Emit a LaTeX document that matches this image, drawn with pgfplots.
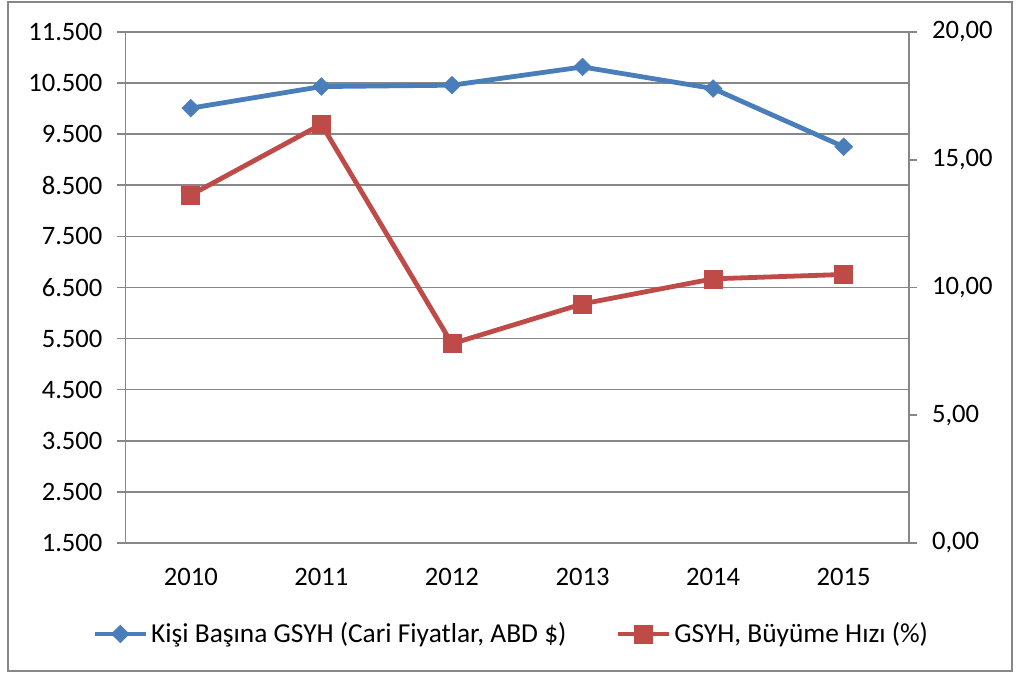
\documentclass[border=0pt]{standalone}
\usepackage{pgfplots}
\pgfplotsset{compat=1.18}
\usepackage{fontspec}
\setmainfont{Carlito}
\definecolor{xblue}{HTML}{4A7EBB}
\definecolor{xred}{HTML}{BE4B48}
\definecolor{xgrid}{HTML}{878787}
\begin{document}
\begin{tikzpicture}[font=\fontsize{13.3}{15}\selectfont]
\path (-62.75pt,-66pt) rectangle (446.75pt,271.5pt);
\draw[xgrid, line width=0.9pt] (-58.75pt,-64pt) rectangle (443.25pt,270.5pt);
\pgfplotsset{
  common/.style={
    scale only axis, width=391.75pt, height=255.5pt,
    at={(0pt,0pt)}, anchor=south west,
    xmin=-0.5, xmax=5.5,
    scaled y ticks=false,
    axis line style={xgrid, line width=0.8pt},
    tick style={xgrid, line width=0.8pt},
    major tick length=4pt, tick align=outside,
    legend image code/.code={\draw[mark repeat=2,mark phase=2,#1] plot coordinates {(0pt,0pt) (12.75pt,0pt) (25.5pt,0pt)};},
  },
  blueline/.style={xblue, line width=2.4pt, mark=diamond*, mark size=4.4pt, mark options={solid, fill=xblue, line width=0.3pt, xscale=1.35}},
  redline/.style={xred, line width=2.4pt, mark=square*, mark size=4.5pt, mark options={solid, fill=xred, line width=0.3pt}},
}
\begin{axis}[common,
  ymin=1500, ymax=11500,
  ytick={1500,2500,...,11500},
  yticklabels={1.500,2.500,3.500,4.500,5.500,6.500,7.500,8.500,9.500,10.500,11.500},
  ymajorgrids, grid style={xgrid, line width=0.8pt},
  axis y line*=left,
  axis x line*=bottom,
  xtick={0,...,5},
  xticklabels={2010,2011,2012,2013,2014,2015},
  x tick style={draw=none},
  extra x ticks={-0.5,0.5,1.5,2.5,3.5,4.5,5.5},
  extra x tick labels={},
  extra x tick style={tick style={xgrid, line width=0.8pt, draw=xgrid}, major tick length=4.5pt, grid=none},
  yticklabel style={anchor=east, xshift=-4pt},
  xticklabel style={anchor=north, yshift=-5pt},
]
\addplot[blueline]
  coordinates {(0,10010) (1,10432) (2,10459) (3,10816) (4,10393) (5,9254)};
\end{axis}
\begin{axis}[common,
  ymin=0, ymax=20,
  ytick={0,5,...,20},
  yticklabels={{0,00},{5,00},{10,00},{15,00},{20,00}},
  axis y line*=right,
  axis x line=none,
  yticklabel style={anchor=west, xshift=4pt},
  legend columns=2,
  legend style={at={(0.493,-0.178)}, anchor=center, draw=none, fill=none,
    font=\fontsize{13.7}{15}\selectfont,
    /tikz/every even column/.append style={column sep=23pt},
    nodes={inner sep=1.5pt}},
]
\addlegendimage{blueline}
\addlegendentry{Kişi Başına GSYH (Cari Fiyatlar, ABD \$)}
\addplot[redline]
  coordinates {(0,13.62) (1,16.39) (2,7.80) (3,9.36) (4,10.34) (5,10.51)};
\addlegendentry{GSYH, Büyüme Hızı (\%)}
\end{axis}
\end{tikzpicture}
\end{document}
